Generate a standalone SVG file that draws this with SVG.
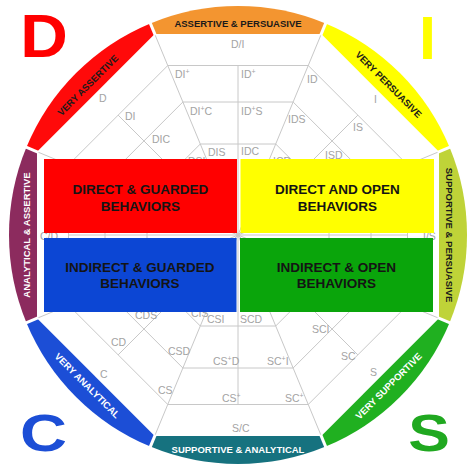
<svg xmlns="http://www.w3.org/2000/svg" width="475" height="467" viewBox="0 0 475 467">
<style>
.web{fill:none;stroke:#c8c8c8;stroke-width:1}
.lbl{font-family:"Liberation Sans",Arial,sans-serif;font-size:10.5px;fill:#a3a3a3}
.sup{font-size:7px}
.bt{font-family:"Liberation Sans",Arial,sans-serif;font-size:9.5px;font-weight:bold;text-anchor:middle}
.dk{fill:#1a1a1a}
.wt{fill:#ffffff}
.boxt{font-family:"Liberation Sans",Arial,sans-serif;font-size:13.5px;font-weight:bold;fill:#141414;text-anchor:middle}
.big{font-family:"Liberation Sans",Arial,sans-serif;font-weight:bold;text-anchor:middle}
.gap{stroke:#ffffff;stroke-width:3}
</style>
<rect width="475" height="467" fill="#ffffff"/>

<g id="connectors" class="web">
  <polygon points="167.8,65.5 308.2,65.5 407.5,164.8 407.5,305.2 308.2,404.5 167.8,404.5 68.5,305.2 68.5,164.8"/>
  <polygon points="182.9,102 293.1,102 371,179.9 371,290.1 293.1,368 182.9,368 105,290.1 105,179.9"/>
  <polygon points="200.3,144 275.7,144 329,197.3 329,272.7 275.7,326 200.3,326 147,272.7 147,197.3"/>
  <path d="M238,235 L321.3,34 M238,235 L439,151.7 M238,235 L439,318.3 M238,235 L321.3,436 M238,235 L154.7,436 M238,235 L37,318.3 M238,235 L37,151.7 M238,235 L154.7,34"/>
  <path d="M238,235 L238,65.5 M238,235 L357.9,115.1 M238,235 L407.5,235 M238,235 L357.9,354.9 M238,235 L238,404.5 M238,235 L118.1,354.9 M238,235 L68.5,235 M238,235 L118.1,115.1"/>
</g>

<g id="web-labels" class="lbl">
  <text x="231" y="48">D/I</text>
  <text x="175" y="78">DI<tspan class="sup" dy="-4">+</tspan></text>
  <text x="241" y="78">ID<tspan class="sup" dy="-4">+</tspan></text>
  <text x="190" y="115">DI<tspan class="sup" dy="-4">+</tspan><tspan dy="4">C</tspan></text>
  <text x="241" y="115">ID<tspan class="sup" dy="-4">+</tspan><tspan dy="4">S</tspan></text>
  <text x="208" y="156">DIS</text>
  <text x="241" y="155">IDC</text>
  <text x="99" y="102">D</text>
  <text x="125" y="120">DI</text>
  <text x="152" y="143">DIC</text>
  <text x="188" y="165">DSI</text>
  <text x="307" y="83">ID</text>
  <text x="374" y="103">I</text>
  <text x="288" y="123">IDS</text>
  <text x="353" y="131">IS</text>
  <text x="325" y="159">ISD</text>
  <text x="273" y="165">ICD</text>
  <text x="423" y="240">I/S</text>
  <text x="40" y="240">C/D</text>
  <text x="135" y="319">CDS</text>
  <text x="111" y="346">CD</text>
  <text x="100" y="378">C</text>
  <text x="168" y="355">CSD</text>
  <text x="158" y="394">CS</text>
  <text x="191" y="317">CIS</text>
  <text x="207" y="323">CSI</text>
  <text x="240" y="323">SCD</text>
  <text x="213" y="365">CS<tspan class="sup" dy="-4">+</tspan><tspan dy="4">D</tspan></text>
  <text x="267" y="365">SC<tspan class="sup" dy="-4">+</tspan><tspan dy="4">I</tspan></text>
  <text x="222" y="402">CS<tspan class="sup" dy="-4">+</tspan></text>
  <text x="285" y="402">SC<tspan class="sup" dy="-4">+</tspan></text>
  <text x="232" y="432">S/C</text>
  <text x="312" y="333">SCI</text>
  <text x="341" y="360">SC</text>
  <text x="370" y="376">S</text>
</g>

<g id="box-direct-guarded">
  <rect x="44" y="159" width="193" height="74" fill="#ff0000"/>
  <text class="boxt" x="140.5" y="194">DIRECT &amp; GUARDED</text>
  <text class="boxt" x="140.5" y="211">BEHAVIORS</text>
</g>
<g id="box-direct-open">
  <rect x="240.5" y="159" width="193.5" height="74" fill="#ffff00"/>
  <text class="boxt" x="337.5" y="194">DIRECT AND OPEN</text>
  <text class="boxt" x="337.5" y="211">BEHAVIORS</text>
</g>
<g id="box-indirect-guarded">
  <rect x="44" y="238" width="192.5" height="74" fill="#0c46d4"/>
  <text class="boxt" x="140" y="271.5">INDIRECT &amp; GUARDED</text>
  <text class="boxt" x="140" y="288">BEHAVIORS</text>
</g>
<g id="box-indirect-open">
  <rect x="240" y="238" width="193" height="74" fill="#0aa50b"/>
  <text class="boxt" x="336.5" y="271.5">INDIRECT &amp; OPEN</text>
  <text class="boxt" x="336.5" y="288">BEHAVIORS</text>
</g>

<g id="band-assertive-persuasive">
  <path d="M154.7,34 L150.37,23.43 A229,229 0 0 1 325.63,23.43 L321.3,34 Z" fill="#f39530"/>
  <text class="bt dk" x="238" y="27.4">ASSERTIVE &amp; PERSUASIVE</text>
</g>
<g id="band-very-persuasive">
  <path d="M321.3,34 L325.63,23.43 A229,229 0 0 1 449.57,147.37 L439,151.7 Z" fill="#ffff00"/>
  <g transform="translate(388.6,84.4) rotate(45)"><text class="bt dk" x="0" y="3.4">VERY PERSUASIVE</text></g>
</g>
<g id="band-supportive-persuasive">
  <path d="M439,151.7 L449.57,147.37 A229,229 0 0 1 449.57,322.63 L439,318.3 Z" fill="#bfd338"/>
  <g transform="translate(449,235) rotate(90)"><text class="bt dk" x="0" y="3.4">SUPPORTIVE &amp; PERSUASIVE</text></g>
</g>
<g id="band-very-supportive">
  <path d="M439,318.3 L449.57,322.63 A229,229 0 0 1 325.63,446.57 L321.3,436 Z" fill="#20b020"/>
  <g transform="translate(388.6,386) rotate(-45)"><text class="bt wt" x="0" y="3.4">VERY SUPPORTIVE</text></g>
</g>
<g id="band-supportive-analytical">
  <path d="M321.3,436 L325.63,446.57 A229,229 0 0 1 150.37,446.57 L154.7,436 Z" fill="#16727f"/>
  <text class="bt wt" x="238" y="452.8">SUPPORTIVE &amp; ANALYTICAL</text>
</g>
<g id="band-very-analytical">
  <path d="M154.7,436 L150.37,446.57 A229,229 0 0 1 26.43,322.63 L37,318.3 Z" fill="#1c4ed6"/>
  <g transform="translate(87.4,385.6) rotate(45)"><text class="bt wt" x="0" y="3.4">VERY ANALYTICAL</text></g>
</g>
<g id="band-analytical-assertive">
  <path d="M37,318.3 L26.43,322.63 A229,229 0 0 1 26.43,147.37 L37,151.7 Z" fill="#8c2b5e"/>
  <g transform="translate(27,235) rotate(-90)"><text class="bt wt" x="0" y="3.4">ANALYTICAL &amp; ASSERTIVE</text></g>
</g>
<g id="band-very-assertive">
  <path d="M37,151.7 L26.43,147.37 A229,229 0 0 1 150.37,23.43 L154.7,34 Z" fill="#ff0a0a"/>
  <g transform="translate(87.8,85.2) rotate(-45)"><text class="bt dk" x="0" y="3.4">VERY ASSERTIVE</text></g>
</g>

<g id="band-gaps" class="gap">
  <line x1="320.66" y1="35.44" x2="326.78" y2="20.66"/>
  <line x1="437.56" y1="152.34" x2="452.34" y2="146.22"/>
  <line x1="437.56" y1="317.66" x2="452.34" y2="323.78"/>
  <line x1="320.66" y1="434.56" x2="326.78" y2="449.34"/>
  <line x1="155.34" y1="434.56" x2="149.22" y2="449.34"/>
  <line x1="38.44" y1="317.66" x2="23.66" y2="323.78"/>
  <line x1="38.44" y1="152.34" x2="23.66" y2="146.22"/>
  <line x1="155.34" y1="35.44" x2="149.22" y2="20.66"/>
</g>

<g id="letter-d"><text class="big" transform="translate(44,57) scale(1.08,1)" font-size="61" fill="#ff0000">D</text></g>
<g id="letter-i"><text class="big" x="427.5" y="59" font-size="61" fill="#ffff00">I</text></g>
<g id="letter-c"><text class="big" transform="translate(43.5,451) scale(1.25,1)" font-size="52" fill="#1c4ed6">C</text></g>
<g id="letter-s"><text class="big" transform="translate(429,451) scale(1.2,1)" font-size="52" fill="#20a820">S</text></g>
</svg>
